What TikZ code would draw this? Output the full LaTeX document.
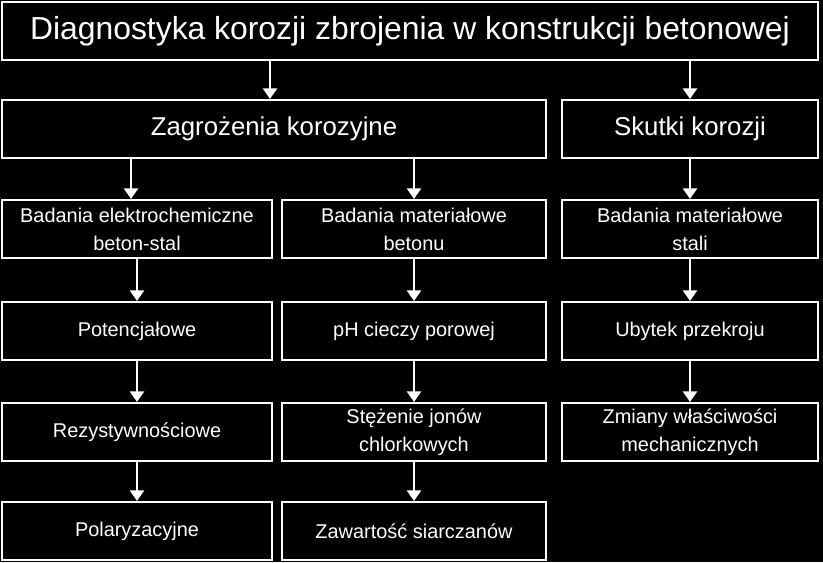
\documentclass[tikz,border=0pt]{standalone}
\usepackage{fontspec}
\setmainfont{Liberation Sans}
\usetikzlibrary{arrows.meta}
\tikzset{
  box/.style={draw=white, line width=1.8pt, text=white, align=center, inner sep=0pt},
  arr/.style={draw=white, line width=1.8pt, -{Triangle[fill=white, length=9pt, width=12pt]}}
}
\begin{document}
\begin{tikzpicture}[x=0.03cm, y=-0.03cm]
\fill[black] (0,0) rectangle (823,562);
\useasboundingbox (0,0) rectangle (823,562);
% top
\node[box, minimum width=816*0.03cm, minimum height=58*0.03cm, font=\fontsize{27.2}{30}\selectfont] (diag) at (410,31) {Diagnostyka korozji zbrojenia w konstrukcji betonowej};
\node[box, minimum width=544*0.03cm, minimum height=58*0.03cm, font=\fontsize{22}{25}\selectfont] (zagr) at (274,129) {Zagrożenia korozyjne};
\node[box, minimum width=256*0.03cm, minimum height=58*0.03cm, font=\fontsize{22}{25}\selectfont] (skut) at (690,129) {Skutki korozji};
% columns
\tikzset{small/.style={box, minimum height=58*0.03cm, font=\fontsize{17}{24}\selectfont}}
\node[small, minimum width=270*0.03cm] (elek) at (137,229) {Badania elektrochemiczne\\beton-stal};
\node[small, minimum width=264*0.03cm] (mbet) at (414,229) {Badania materiałowe\\betonu};
\node[small, minimum width=256*0.03cm] (mstal) at (690,229) {Badania materiałowe\\stali};
\node[small, minimum width=270*0.03cm] (pot) at (137,331) {Potencjałowe};
\node[small, minimum width=264*0.03cm] (ph) at (414,331) {pH cieczy porowej};
\node[small, minimum width=256*0.03cm] (ubyt) at (690,331) {Ubytek przekroju};
\node[small, minimum width=270*0.03cm] (rez) at (137,432) {Rezystywnościowe};
\node[small, minimum width=264*0.03cm] (stez) at (414,432) {Stężenie jonów\\chlorkowych};
\node[small, minimum width=256*0.03cm] (zmia) at (690,432) {Zmiany właściwości\\mechanicznych};
\node[small, minimum width=270*0.03cm] (pol) at (137,531) {Polaryzacyjne};
\node[small, minimum width=264*0.03cm] (zaw) at (414,531) {Zawartość siarczanów};
% arrows
\draw[arr] (diag.south -| zagr.north) ++(-4,0) coordinate (d1) -- (d1 |- zagr.north);
\draw[arr] (diag.south -| skut.north) -- (skut.north);
\draw[arr] (zagr.south -| elek.north) ++(-6,0) coordinate (z1) -- (z1 |- elek.north);
\draw[arr] (zagr.south -| mbet.north) -- (mbet.north);
\draw[arr] (skut) -- (mstal);
\foreach \u/\v in {elek/pot, pot/rez, rez/pol, mbet/ph, ph/stez, stez/zaw, mstal/ubyt, ubyt/zmia}
  \draw[arr] (\u.south) -- (\v.north);
\end{tikzpicture}
\end{document}
